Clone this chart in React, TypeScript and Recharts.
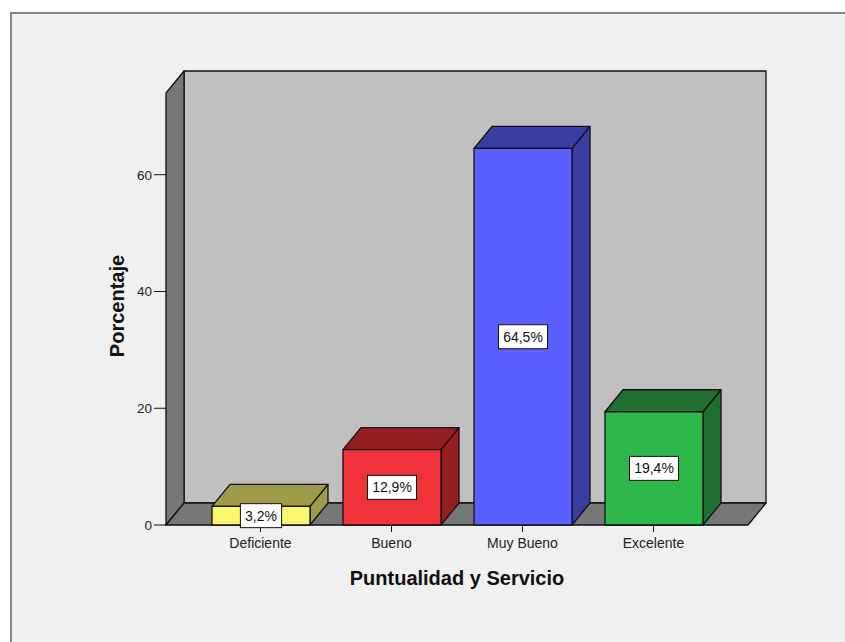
import React from "react";
import { BarChart, Bar, XAxis, YAxis, ReferenceArea, LabelList, Label } from "recharts";

// Puntualidad y Servicio – porcentaje por categoría
const categories = ["Deficiente", "Bueno", "Muy Bueno", "Excelente"];
const percentages = [3.2, 12.9, 64.5, 19.4];
const yTicks = [0, 20, 40, 60];

const frontColors = ["#FAF76E", "#F0333B", "#5B5FFE", "#2EB74B"];
const shadeColors = ["#9F9B49", "#951E23", "#3A3DA2", "#1F6F31"];

const data = categories.map((name, i) => ({ name, value: percentages[i] }));

// depth of the pseudo-3D extrusion
const DX = 18;
const DY = 22;
// category axis padding (walls extend over it)
const PAD = 29;
const FONT = "Arial, 'Liberation Sans', sans-serif";

function Box3D(props: any) {
  const { x, y, width: w, height: h, index } = props;
  const front = frontColors[index];
  const shade = shadeColors[index];
  return (
    <g stroke="#111" strokeWidth={1.3} strokeLinejoin="round">
      <polygon
        points={`${x + w},${y} ${x + w + DX},${y - DY} ${x + w + DX},${y + h - DY} ${x + w},${y + h}`}
        fill={shade}
      />
      <polygon
        points={`${x},${y} ${x + DX},${y - DY} ${x + w + DX},${y - DY} ${x + w},${y}`}
        fill={shade}
      />
      <rect x={x} y={y} width={w} height={h} fill={front} />
    </g>
  );
}

// back wall, left wall and floor of the 3D box
function Walls(props: any) {
  const x = props.x - PAD;
  const w = props.width + 2 * PAD;
  const { y, height: h } = props;
  const b = y + h;
  const r = x + w;
  return (
    <g stroke="#111" strokeWidth={1.3} strokeLinejoin="round">
      <rect x={x + DX} y={y - DY} width={w} height={h} fill="#C0C0C0" />
      <polygon points={`${x},${y} ${x + DX},${y - DY} ${x + DX},${b - DY} ${x},${b}`} fill="#777777" />
      <polygon points={`${x},${b} ${x + DX},${b - DY} ${r + DX},${b - DY} ${r},${b}`} fill="#777777" />
    </g>
  );
}

function ValueBox(props: any) {
  const { x, y, width, height, value } = props;
  const text = `${String(value).replace(".", ",")}%`;
  const bw = text.length * 7.8 + 10;
  const bh = 24;
  const cx = x + width / 2;
  const cy = y + height / 2;
  return (
    <g>
      <rect x={cx - bw / 2} y={cy - bh / 2} width={bw} height={bh} fill="#fff" stroke="#111" strokeWidth={1} />
      <text x={cx} y={cy + 5} textAnchor="middle" fontSize={14} fontFamily={FONT} fill="#111">
        {text}
      </text>
    </g>
  );
}

export default function App() {
  return (
    <div style={{ position: "absolute", left: 0, top: 0, width: 845, height: 642, background: "#fff", overflow: "hidden" }}>
      <div
        style={{
          position: "absolute",
          left: 10,
          top: 12,
          width: 860,
          height: 700,
          borderTop: "2px solid #858585",
          borderLeft: "2px solid #858585",
          background: "#F0F0F0",
        }}
      />
      <div style={{ position: "absolute", left: 0, top: 0 }}>
        <BarChart
          width={845}
          height={642}
          data={data}
          margin={{ top: 93, right: 97, bottom: 77, left: 106 }}
          barSize={98}
        >
          <ReferenceArea y1={0} y2={74} shape={<Walls />} />
          <XAxis
            dataKey="name"
            height={40}
            padding={{ left: PAD, right: PAD }}
            tickSize={7}
            tickMargin={6}
            tickLine={{ stroke: "#111" }}
            axisLine={false}
            tick={{ fontSize: 14, fontFamily: FONT, fill: "#222" }}
          >
            <Label
              content={({ viewBox }: any) => (
                <text
                  x={viewBox.x + viewBox.width / 2}
                  y={viewBox.y + 60}
                  textAnchor="middle"
                  fontSize={20}
                  fontWeight="bold"
                  fontFamily={FONT}
                  fill="#111"
                >
                  Puntualidad y Servicio
                </text>
              )}
            />
          </XAxis>
          <YAxis
            domain={[0, 74]}
            ticks={yTicks}
            width={60}
            tickSize={12}
            tickMargin={2}
            tickLine={{ stroke: "#111" }}
            axisLine={false}
            tick={{ fontSize: 13.5, fontFamily: FONT, fill: "#222" }}
          >
            <Label
              content={({ viewBox }: any) => {
                const lx = viewBox.x + 18;
                const ly = viewBox.y + viewBox.height / 2 - 3;
                return (
                  <text
                    x={lx}
                    y={ly}
                    transform={`rotate(-90 ${lx} ${ly})`}
                    textAnchor="middle"
                    fontSize={20}
                    fontWeight="bold"
                    fontFamily={FONT}
                    fill="#111"
                  >
                    Porcentaje
                  </text>
                );
              }}
            />
          </YAxis>
          <Bar dataKey="value" shape={<Box3D />} isAnimationActive={false}>
            <LabelList dataKey="value" content={<ValueBox />} />
          </Bar>
        </BarChart>
      </div>
    </div>
  );
}
